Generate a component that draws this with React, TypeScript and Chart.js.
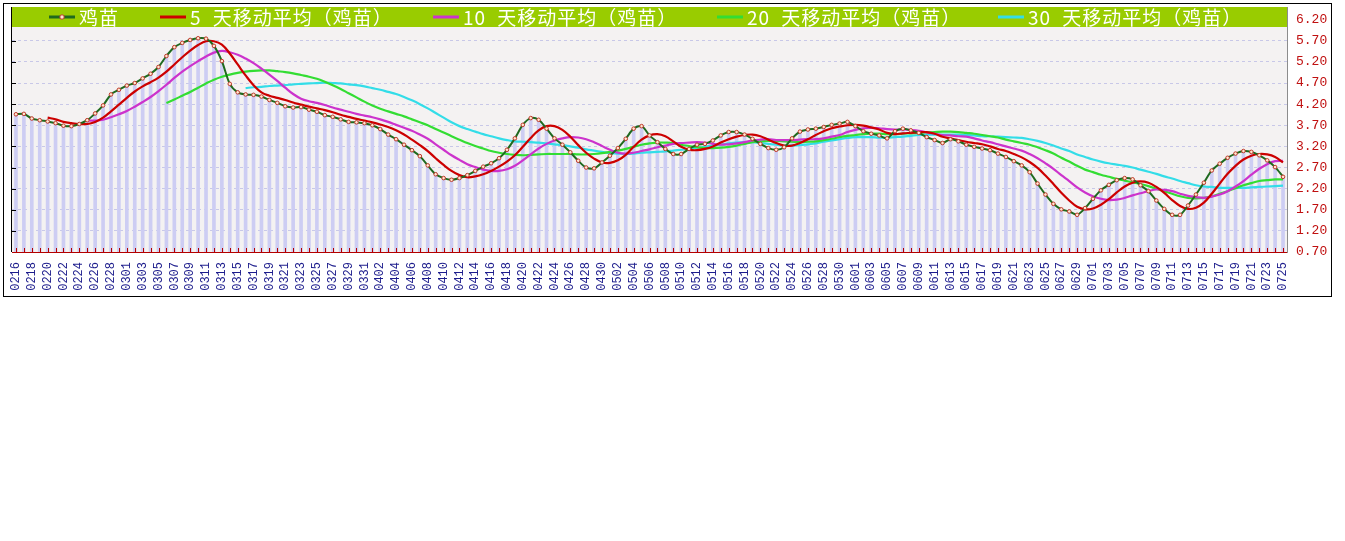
import React, { useEffect, useRef } from 'react';
import { Chart, registerables } from 'chart.js';

Chart.register(...registerables);

const dates = [
  '0216','0217','0218','0219','0220','0221','0222','0223','0224','0225','0226','0227','0228','0229',
  '0301','0302','0303','0304','0305','0306','0307','0308','0309','0310','0311','0312','0313','0314','0315','0316',
  '0317','0318','0319','0320','0321','0322','0323','0324','0325','0326','0327','0328','0329','0330','0331',
  '0401','0402','0403','0404','0405','0406','0407','0408','0409','0410','0411','0412','0413','0414','0415',
  '0416','0417','0418','0419','0420','0421','0422','0423','0424','0425','0426','0427','0428','0429','0430',
  '0501','0502','0503','0504','0505','0506','0507','0508','0509','0510','0511','0512','0513','0514','0515','0516',
  '0517','0518','0519','0520','0521','0522','0523','0524','0525','0526','0527','0528','0529','0530','0531',
  '0601','0602','0603','0604','0605','0606','0607','0608','0609','0610','0611','0612','0613','0614','0615',
  '0616','0617','0618','0619','0620','0621','0622','0623','0624','0625','0626','0627','0628','0629','0630',
  '0701','0702','0703','0704','0705','0706','0707','0708','0709','0710','0711','0712','0713','0714','0715',
  '0716','0717','0718','0719','0720','0721','0722','0723','0724','0725'
];

const price = [
  3.96,3.97,3.86,3.82,3.79,3.75,3.69,3.68,3.73,3.82,
  3.98,4.17,4.43,4.54,4.64,4.70,4.81,4.92,5.08,5.34,
  5.55,5.65,5.72,5.76,5.75,5.58,5.22,4.68,4.48,4.43,
  4.42,4.38,4.30,4.23,4.15,4.12,4.13,4.07,4.02,3.94,
  3.90,3.84,3.78,3.77,3.75,3.70,3.61,3.48,3.37,3.24,
  3.11,2.97,2.75,2.54,2.45,2.41,2.45,2.52,2.62,2.72,
  2.80,2.92,3.12,3.39,3.71,3.87,3.83,3.62,3.39,3.24,
  3.06,2.86,2.70,2.68,2.82,2.98,3.16,3.38,3.62,3.68,
  3.46,3.30,3.14,3.02,3.02,3.14,3.24,3.26,3.34,3.46,
  3.54,3.54,3.48,3.38,3.26,3.16,3.12,3.18,3.39,3.55,
  3.60,3.62,3.66,3.71,3.74,3.78,3.68,3.56,3.50,3.46,
  3.39,3.56,3.62,3.58,3.52,3.42,3.35,3.28,3.37,3.32,
  3.24,3.19,3.15,3.11,3.03,2.95,2.85,2.75,2.59,2.32,
  2.06,1.84,1.71,1.66,1.58,1.74,1.96,2.16,2.29,2.40,
  2.45,2.42,2.28,2.14,1.92,1.72,1.58,1.58,1.80,2.06,
  2.34,2.63,2.79,2.93,3.03,3.09,3.07,2.99,2.87,2.71,
  2.48
];

const ma5 = [
  null,null,null,null,3.88,3.84,3.78,3.75,3.73,3.73,
  3.78,3.88,4.03,4.19,4.35,4.50,4.62,4.72,4.83,4.97,
  5.14,5.31,5.47,5.60,5.69,5.69,5.61,5.40,5.14,4.88,
  4.65,4.48,4.40,4.35,4.30,4.24,4.19,4.14,4.10,4.06,
  4.01,3.95,3.90,3.85,3.81,3.77,3.72,3.66,3.58,3.48,
  3.36,3.23,3.09,2.92,2.76,2.62,2.52,2.47,2.49,2.54,
  2.62,2.72,2.84,2.99,3.19,3.40,3.58,3.68,3.68,3.59,
  3.43,3.23,3.05,2.91,2.82,2.81,2.87,3.00,3.19,3.36,
  3.46,3.49,3.44,3.32,3.19,3.12,3.11,3.14,3.20,3.29,
  3.37,3.43,3.47,3.48,3.44,3.36,3.28,3.22,3.22,3.28,
  3.37,3.47,3.56,3.63,3.67,3.70,3.71,3.69,3.65,3.60,
  3.52,3.49,3.51,3.52,3.53,3.54,3.50,3.43,3.39,3.35,
  3.31,3.28,3.25,3.20,3.14,3.09,3.02,2.94,2.83,2.69,
  2.51,2.31,2.10,1.92,1.77,1.71,1.73,1.82,1.95,2.11,
  2.25,2.34,2.37,2.34,2.24,2.10,1.93,1.79,1.72,1.75,
  1.87,2.08,2.32,2.55,2.74,2.89,2.98,3.02,3.01,2.95,
  2.82
];

const ma10 = [
  null,null,null,null,null,null,null,null,null,3.81,
  3.81,3.83,3.89,3.96,4.04,4.14,4.25,4.37,4.51,4.66,
  4.82,4.97,5.10,5.22,5.33,5.42,5.46,5.43,5.37,5.28,
  5.17,5.04,4.90,4.75,4.59,4.44,4.33,4.27,4.23,4.18,
  4.12,4.07,4.02,3.97,3.93,3.89,3.84,3.78,3.71,3.64,
  3.57,3.48,3.38,3.25,3.12,2.99,2.88,2.78,2.71,2.65,
  2.62,2.62,2.66,2.74,2.87,3.01,3.15,3.26,3.34,3.39,
  3.42,3.41,3.37,3.30,3.21,3.12,3.05,3.03,3.05,3.09,
  3.13,3.18,3.22,3.26,3.28,3.29,3.30,3.29,3.26,3.24,
  3.25,3.27,3.30,3.34,3.36,3.37,3.35,3.35,3.35,3.36,
  3.37,3.37,3.39,3.43,3.47,3.54,3.59,3.63,3.64,3.63,
  3.61,3.60,3.60,3.59,3.57,3.53,3.50,3.47,3.46,3.44,
  3.43,3.39,3.34,3.30,3.25,3.20,3.15,3.10,3.02,2.92,
  2.80,2.67,2.52,2.38,2.23,2.11,2.02,1.96,1.93,1.94,
  1.98,2.04,2.09,2.14,2.18,2.17,2.14,2.08,2.03,2.00,
  1.98,2.01,2.06,2.14,2.25,2.38,2.53,2.67,2.78,2.85,
  2.86
];

const ma20 = [
  null,null,null,null,null,null,null,null,null,null,
  null,null,null,null,null,null,null,null,null,4.23,
  4.31,4.40,4.49,4.59,4.69,4.78,4.85,4.90,4.94,4.97,
  4.99,5.00,5.00,4.98,4.96,4.93,4.89,4.85,4.80,4.73,
  4.65,4.56,4.46,4.36,4.26,4.17,4.09,4.03,3.97,3.91,
  3.84,3.77,3.70,3.61,3.53,3.44,3.36,3.28,3.21,3.15,
  3.09,3.05,3.02,3.00,2.99,3.00,3.01,3.02,3.02,3.02,
  3.02,3.01,3.01,3.02,3.04,3.07,3.10,3.14,3.19,3.24,
  3.27,3.29,3.29,3.28,3.24,3.21,3.18,3.16,3.16,3.17,
  3.19,3.22,3.26,3.30,3.32,3.33,3.33,3.32,3.31,3.30,
  3.31,3.32,3.35,3.38,3.42,3.45,3.47,3.49,3.50,3.50,
  3.49,3.49,3.50,3.51,3.52,3.53,3.54,3.55,3.55,3.54,
  3.52,3.50,3.47,3.44,3.41,3.36,3.32,3.28,3.24,3.18,
  3.11,3.03,2.93,2.84,2.74,2.65,2.59,2.53,2.48,2.43,
  2.39,2.35,2.31,2.26,2.20,2.14,2.08,2.02,1.98,1.97,
  1.98,2.02,2.08,2.14,2.21,2.28,2.33,2.38,2.40,2.42,
  2.42
];

const ma30 = [
  null,null,null,null,null,null,null,null,null,null,
  null,null,null,null,null,null,null,null,null,null,
  null,null,null,null,null,null,null,null,null,4.58,
  4.60,4.61,4.63,4.64,4.65,4.67,4.68,4.69,4.70,4.71,
  4.70,4.69,4.67,4.65,4.62,4.58,4.54,4.49,4.44,4.37,
  4.29,4.20,4.10,3.99,3.88,3.77,3.68,3.61,3.55,3.49,
  3.44,3.39,3.35,3.32,3.31,3.30,3.29,3.27,3.25,3.23,
  3.20,3.17,3.13,3.10,3.07,3.04,3.03,3.02,3.03,3.05,
  3.06,3.07,3.08,3.10,3.12,3.14,3.17,3.19,3.22,3.24,
  3.27,3.29,3.30,3.30,3.28,3.26,3.24,3.22,3.22,3.23,
  3.25,3.27,3.31,3.34,3.37,3.40,3.42,3.42,3.42,3.41,
  3.41,3.42,3.43,3.45,3.47,3.48,3.48,3.48,3.48,3.48,
  3.47,3.46,3.44,3.44,3.43,3.42,3.41,3.40,3.37,3.33,
  3.28,3.22,3.15,3.09,3.01,2.95,2.89,2.84,2.80,2.77,
  2.74,2.70,2.65,2.60,2.55,2.49,2.44,2.38,2.33,2.28,
  2.25,2.24,2.22,2.22,2.22,2.22,2.23,2.24,2.25,2.26,
  2.27
];

const yTicks = [0.7, 1.2, 1.7, 2.2, 2.7, 3.2, 3.7, 4.2, 4.7, 5.2, 5.7, 6.2];

const legendLabels = [
  '鸡苗',
  '5 天移动平均（鸡苗）',
  '10 天移动平均（鸡苗）',
  '20 天移动平均（鸡苗）',
  '30 天移动平均（鸡苗）'
];

const seriesColors = ['#1f6a1f', '#cc0000', '#cc33cc', '#33dd33', '#33dde8'];
const legendLineX = [49, 160, 433, 717, 998];

const PAPER = '#f4f2f2';
const BAR = '#cdcdf3';

export default function App() {
  const ref = useRef<HTMLCanvasElement | null>(null);

  useEffect(() => {
    const canvas = ref.current;
    if (!canvas) return;

    const decor = {
      id: 'decor',
      beforeDraw(chart: any) {
        const { ctx, chartArea: a } = chart;
        ctx.save();
        ctx.fillStyle = '#ffffff';
        ctx.fillRect(0, 0, chart.width, chart.height);
        ctx.fillStyle = PAPER;
        ctx.fillRect(a.left, a.top, a.right - a.left, a.bottom - a.top);
        ctx.restore();
      },
      afterDraw(chart: any) {
        const { ctx, chartArea: a, scales } = chart;
        const xs = scales.x;
        const ys = scales.y;
        ctx.save();
        // left axis
        ctx.strokeStyle = '#000000';
        ctx.lineWidth = 1;
        ctx.beginPath();
        ctx.moveTo(a.left - 0.5, a.top);
        ctx.lineTo(a.left - 0.5, a.bottom);
        yTicks.forEach((v) => {
          const py = Math.round(ys.getPixelForValue(v)) + 0.5;
          ctx.moveTo(a.left, py);
          ctx.lineTo(a.left + 4, py);
        });
        ctx.stroke();
        // bottom axis with small red ticks
        ctx.strokeStyle = '#b40000';
        ctx.beginPath();
        ctx.moveTo(a.left, a.bottom + 0.5);
        ctx.lineTo(a.right, a.bottom + 0.5);
        dates.forEach((_, i) => {
          const px = Math.round(xs.getPixelForValue(i)) + 0.5;
          ctx.moveTo(px, a.bottom);
          ctx.lineTo(px, a.bottom - 4);
        });
        ctx.stroke();
        // legend band
        ctx.fillStyle = '#99cc00';
        ctx.fillRect(a.left, a.top, a.right - a.left, 20);
        const cy = a.top + 10;
        ctx.font = '19px "Noto Sans CJK SC"';
        ctx.textBaseline = 'middle';
        ctx.textAlign = 'left';
        (ctx as any).letterSpacing = '1px';
        (ctx as any).wordSpacing = '6px';
        legendLabels.forEach((t, i) => {
          const lx = legendLineX[i];
          ctx.strokeStyle = seriesColors[i];
          ctx.lineWidth = 3;
          ctx.beginPath();
          ctx.moveTo(lx, cy);
          ctx.lineTo(lx + 26, cy);
          ctx.stroke();
          if (i === 0) {
            ctx.lineWidth = 1;
            ctx.fillStyle = '#ffe8d0';
            ctx.strokeStyle = '#c0392b';
            ctx.beginPath();
            ctx.arc(lx + 13, cy, 2.2, 0, Math.PI * 2);
            ctx.fill();
            ctx.stroke();
          }
          ctx.fillStyle = '#ffffff';
          ctx.fillText(t, lx + 30, cy + 1);
        });
        (ctx as any).letterSpacing = '0px';
        (ctx as any).wordSpacing = '0px';
        // outer frame
        ctx.strokeStyle = '#000000';
        ctx.lineWidth = 1;
        ctx.strokeRect(3.5, 3.5, 1328, 293);
        ctx.restore();
      }
    };

    const chart = new Chart(canvas, {
      type: 'bar',
      data: {
        labels: dates,
        datasets: [
          {
            type: 'line',
            label: legendLabels[0],
            data: price,
            borderColor: seriesColors[0],
            borderWidth: 2,
            pointRadius: 1.8,
            pointBackgroundColor: '#ffe8d0',
            pointBorderColor: '#c0392b',
            pointBorderWidth: 1,
            tension: 0.3,
            order: 1
          },
          {
            type: 'line',
            label: legendLabels[1],
            data: ma5,
            borderColor: seriesColors[1],
            borderWidth: 2.2,
            pointRadius: 0,
            tension: 0.4,
            order: 2
          },
          {
            type: 'line',
            label: legendLabels[2],
            data: ma10,
            borderColor: seriesColors[2],
            borderWidth: 2.2,
            pointRadius: 0,
            tension: 0.4,
            order: 3
          },
          {
            type: 'line',
            label: legendLabels[3],
            data: ma20,
            borderColor: seriesColors[3],
            borderWidth: 2.2,
            pointRadius: 0,
            tension: 0.4,
            order: 4
          },
          {
            type: 'line',
            label: legendLabels[4],
            data: ma30,
            borderColor: seriesColors[4],
            borderWidth: 2.2,
            pointRadius: 0,
            tension: 0.4,
            order: 5
          },
          {
            type: 'bar',
            label: 'bars',
            data: price,
            backgroundColor: BAR,
            borderWidth: 0,
            barThickness: 3,
            order: 10
          }
        ]
      } as any,
      options: {
        responsive: false,
        animation: false,
        devicePixelRatio: 1,
        layout: { padding: { left: 12, top: 7, right: 0, bottom: 0 } },
        plugins: {
          legend: { display: false },
          tooltip: { enabled: false }
        },
        scales: {
          x: {
            offset: true,
            grid: { display: false, drawTicks: false },
            border: { display: false },
            ticks: {
              autoSkip: false,
              minRotation: 90,
              maxRotation: 90,
              padding: 10,
              color: '#1c1c8c',
              font: { family: 'Liberation Mono', size: 12 },
              callback: (_v: any, i: number) => (i % 2 === 0 ? dates[i] : '')
            },
            afterFit: (s: any) => {
              s.height = 48;
              s.paddingLeft = 0;
              s.paddingRight = 0;
            }
          },
          y: {
            position: 'right',
            min: 0.7,
            max: 6.5,
            grid: { color: '#c8c8e8', drawTicks: false },
            border: { display: true, color: '#8c8c8c', dash: [3, 3] },
            afterBuildTicks: (s: any) => {
              s.ticks = yTicks.map((v) => ({ value: v }));
            },
            ticks: {
              padding: 9,
              color: '#c01010',
              font: { family: 'Liberation Mono', size: 13 },
              callback: (v: any) => Number(v).toFixed(2)
            },
            afterFit: (s: any) => {
              s.width = 58;
              s.paddingTop = 0;
              s.paddingBottom = 0;
            }
          }
        }
      } as any,
      plugins: [decor]
    });

    return () => {
      chart.destroy();
    };
  }, []);

  return (
    <div style={{ position: 'absolute', left: 0, top: 0, width: 1345, height: 300 }}>
      <canvas ref={ref} width={1345} height={300} style={{ display: 'block' }} />
    </div>
  );
}
